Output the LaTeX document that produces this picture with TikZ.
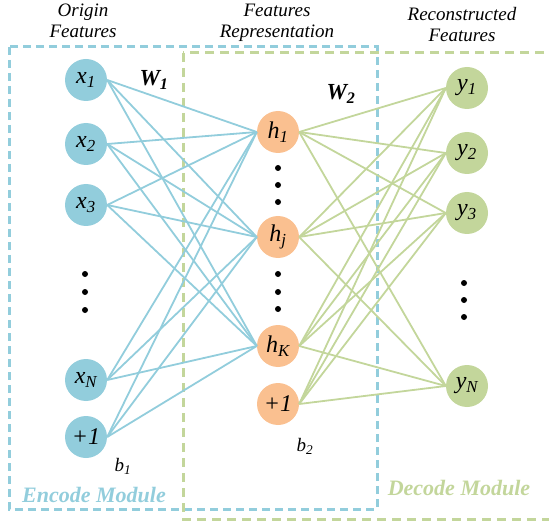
\documentclass[tikz,border=0pt]{standalone}
\usepackage{fontspec}
\setmainfont{Liberation Serif}
\usetikzlibrary{positioning}
\definecolor{encblue}{RGB}{146,205,220}
\definecolor{hidorange}{RGB}{250,192,144}
\definecolor{decgreen}{RGB}{195,214,155}

\begin{document}
\begin{tikzpicture}[x=1pt,y=1pt,on grid,
   unit/.style={circle,minimum size=42pt,inner sep=0pt,font=\fontsize{24}{26}\selectfont\itshape},
   inp/.style={unit,fill=encblue},
   hid/.style={unit,fill=hidorange},
   outp/.style={unit,fill=decgreen},
   enc/.style={encblue,line width=1.8pt},
   dec/.style={decgreen,line width=1.8pt},
   head/.style={align=center,font=\fontsize{19}{21}\selectfont\itshape},
   weight/.style={font=\fontsize{23}{25}\selectfont\bfseries\itshape},
   bias/.style={font=\fontsize{19}{21}\selectfont\itshape},
   module/.style={font=\fontsize{22}{24}\selectfont\bfseries\itshape}]
   \useasboundingbox (0,0) rectangle (549,523);
   % module frames
   \draw[encblue,line width=3pt,dash pattern=on 8pt off 5pt] (9,476) rectangle (377,14);
   \draw[decgreen,line width=3pt,dash pattern=on 9pt off 6pt] (183,470) rectangle (580,4);
   % input layer
   \node[inp] (x1) at (86,443) {x\textsubscript{1}};
   \node[inp] (x2) [below=64pt of x1] {x\textsubscript{2}};
   \node[inp] (x3) [below=61pt of x2] {x\textsubscript{3}};
   \node[inp] (xN) [below=175pt of x3] {x\textsubscript{N}};
   \node[inp] (xb) [below=57pt of xN] {+1};
   % hidden layer
   \node[hid] (h1) at (278,391) {h\textsubscript{1}};
   \node[hid] (hj) [below=105pt of h1] {h\textsubscript{j}};
   \node[hid] (hK) [below=109pt of hj] {h\textsubscript{K}};
   \node[hid] (hb) [below=58pt of hK] {+1};
   % output layer
   \node[outp] (y1) at (467,435) {y\textsubscript{1}};
   \node[outp] (y2) [below=65pt of y1] {y\textsubscript{2}};
   \node[outp] (y3) [below=60pt of y2] {y\textsubscript{3}};
   \node[outp] (yN) [below=173pt of y3] {y\textsubscript{N}};
   % dots
   \fill (85,249) circle (3pt) (85,231) circle (3pt) (85,213) circle (3pt);
   \fill (278,355) circle (3pt) (278,338) circle (3pt) (278,321) circle (3pt);
   \fill (278,249) circle (3pt) (278,231) circle (3pt) (278,214) circle (3pt);
   \fill (464,240) circle (3pt) (464,223) circle (3pt) (464,206) circle (3pt);
   % encoder weights
   \path[enc]
   (x1.east) edge (h1.west) edge (hj.west) edge (hK.west)
   (x2.east) edge (h1.west) edge (hj.west) edge (hK.west)
   (x3.east) edge (h1.west) edge (hj.west) edge (hK.west)
   (xN.east) edge (h1.west) edge (hj.west) edge (hK.west)
   (xb.east) edge (h1.west) edge (hj.west) edge (hK.west);
   % decoder weights
   \path[dec]
   (h1.east) edge (y1.west) edge (y2.west) edge (y3.west) edge (yN.west)
   (hj.east) edge (y1.west) edge (y2.west) edge (y3.west) edge (yN.west)
   (hK.east) edge (y1.west) edge (y2.west) edge (y3.west) edge (yN.west)
   (hb.east) edge (y1.west) edge (y2.west) edge (y3.west) edge (yN.west);
   % labels
   \node[head] (hin) at (83,502) {Origin\\Features};
   \node[head] (hhid) at (277,500) {Features\\Representation};
   \node[head] (hout) at (462,498) {Reconstructed\\Features};
   \node[weight] (w1) at (154,443) {W\textsubscript{1}};
   \node[weight] (w2) at (341,429) {W\textsubscript{2}};
   \node[bias] (b1) at (123,57) {b\textsubscript{1}};
   \node[bias] (b2) at (305,77) {b\textsubscript{2}};
   \node[module,text=encblue] (menc) at (94,28) {Encode Module};
   \node[module,text=decgreen] (mdec) at (459,35) {Decode Module};
\end{tikzpicture}
\end{document}
